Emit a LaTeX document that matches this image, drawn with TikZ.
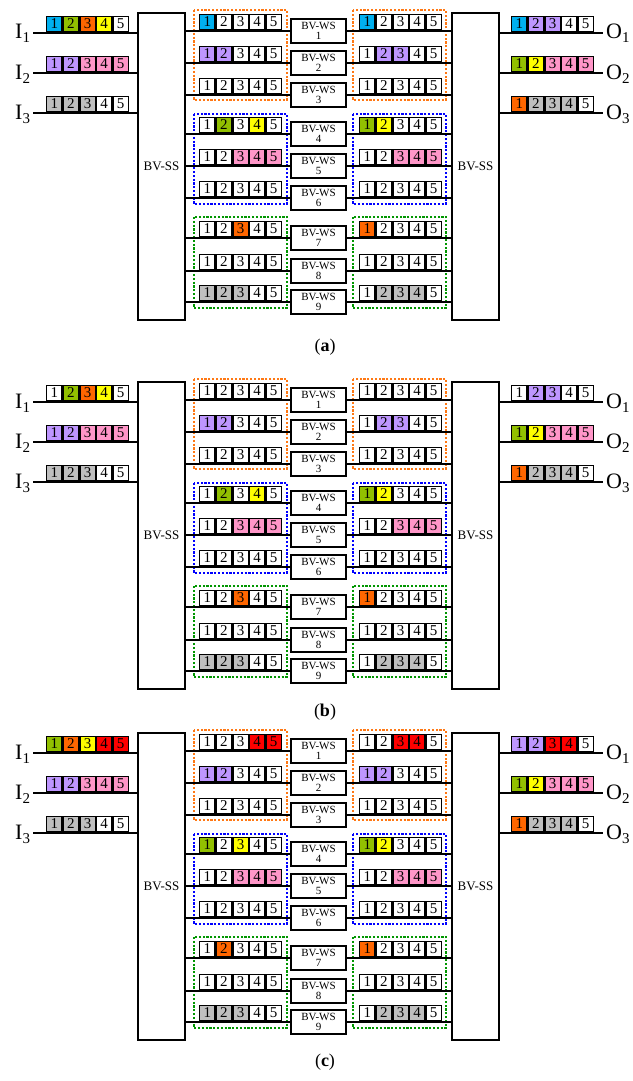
\documentclass[tikz,border=0pt]{standalone}
\usepackage{fontspec}
\setmainfont{Liberation Serif}
\definecolor{colW}{RGB}{255,255,255}
\definecolor{colC}{RGB}{0,176,240}
\definecolor{colG}{RGB}{146,192,0}
\definecolor{colO}{RGB}{255,102,0}
\definecolor{colY}{RGB}{255,255,0}
\definecolor{colP}{RGB}{190,150,255}
\definecolor{colK}{RGB}{255,150,200}
\definecolor{colS}{RGB}{191,191,191}
\definecolor{colR}{RGB}{255,0,0}
\definecolor{grpO}{RGB}{255,120,20}
\definecolor{grpB}{RGB}{0,0,255}
\definecolor{grpG}{RGB}{0,150,0}
\tikzset{
 cell/.style={draw, line width=1.3pt, minimum width=15.3pt, minimum height=14.7pt, inner sep=0pt, font=\fontsize{15}{15}\selectfont},
 ssbox/.style={draw, line width=2pt, minimum width=47pt, minimum height=307pt, inner sep=0pt, font=\fontsize{13}{13}\selectfont},
 wsbox/.style={draw, line width=2pt, fill=white, minimum width=55pt, minimum height=24pt, inner sep=0pt, align=center, font=\fontsize{11}{10}\selectfont},
 wire/.style={line width=1.8pt},
 grp/.style={line width=1.3pt, dash pattern=on 2.2pt off 1.6pt},
 iolab/.style={inner sep=0pt, anchor=base west, font=\fontsize{22}{22}\selectfont},
 plab/.style={inner sep=0pt, font=\fontsize{18}{18}\selectfont},
}
% #1 tag, #2 y offset, #3 letter, #4 label y, #5 inputs, #6 left rows, #7 right rows, #8 outputs
\newcommand\drawpanel[8]{%
\begin{scope}[shift={(0,#2)}]
 \node[ssbox] (ssL-#1) at (161.5,166.5) {BV-SS};
 \node[ssbox] (ssR-#1) at (475.5,166.5) {BV-SS};
 \draw[grp, draw=grpO] (194,10) rectangle (287,100);
 \draw[grp, draw=grpO] (353,10) rectangle (446,100);
 \draw[grp, draw=grpB] (194,114) rectangle (287,204);
 \draw[grp, draw=grpB] (353,114) rectangle (446,204);
 \draw[grp, draw=grpG] (194,217) rectangle (287,308);
 \draw[grp, draw=grpG] (353,217) rectangle (446,308);
 % inputs
 \foreach \row [count=\j] in {#5} {
   \pgfmathsetmacro\yy{{33,73,113}[\j-1]}
   \coordinate (in-#1-\j) at (33,\yy);
   \draw[wire] (in-#1-\j) -- (in-#1-\j -| ssL-#1.west);
   \node[iolab] (lI-#1-\j) at (15,\yy+6) {I\raisebox{-4pt}{\fontsize{15}{15}\selectfont\j}};
   \foreach \cc [count=\i] in \row {
     \node[cell, fill=col\cc] (ci-#1-\j-\i) at ({46+(\i-0.5)*16.6},\yy-9) {\i};
   }
 }
 % outputs
 \foreach \row [count=\j] in {#8} {
   \pgfmathsetmacro\yy{{33,73,113}[\j-1]}
   \coordinate (out-#1-\j) at (603,\yy);
   \draw[wire] (out-#1-\j -| ssR-#1.east) -- (out-#1-\j);
   \node[iolab] (lO-#1-\j) at (606,\yy+6) {O\raisebox{-4pt}{\fontsize{15}{15}\selectfont\j}};
   \foreach \cc [count=\i] in \row {
     \node[cell, fill=col\cc] (co-#1-\j-\i) at ({511+(\i-0.5)*16.6},\yy-9) {\i};
   }
 }
 % WS boxes and left side
 \foreach \row [count=\j] in {#6} {
   \pgfmathsetmacro\yy{{31,63,95,134,166,198,238,271,302}[\j-1]}
   \node[wsbox] (ws-#1-\j) at (318.5,\yy) {BV-WS\\\j};
   \draw[wire] (ws-#1-\j.west -| ssL-#1.east) -- (ws-#1-\j.west);
   \draw[wire] (ws-#1-\j.east) -- (ws-#1-\j.east -| ssR-#1.west);
   \foreach \cc [count=\i] in \row {
     \node[cell, fill=col\cc] (cl-#1-\j-\i) at ({199+(\i-0.5)*16.6},\yy-9) {\i};
   }
 }
 \foreach \row [count=\j] in {#7} {
   \pgfmathsetmacro\yy{{31,63,95,134,166,198,238,271,302}[\j-1]}
   \foreach \cc [count=\i] in \row {
     \node[cell, fill=col\cc] (cr-#1-\j-\i) at ({359+(\i-0.5)*16.6},\yy-9) {\i};
   }
 }
 \node[plab] (plab-#1) at (325,#4) {(\textbf{#3})};
\end{scope}}
\begin{document}
\begin{tikzpicture}[x=1pt,y=-1pt]
\useasboundingbox (0,0) rectangle (632,1081);
\fill[white] (0,0) rectangle (632,1081);
\drawpanel{a}{0}{a}{347}
 {{C,G,O,Y,W},{P,P,K,K,K},{S,S,S,W,W}}
 {{C,W,W,W,W},{P,P,W,W,W},{W,W,W,W,W},{W,G,W,Y,W},{W,W,K,K,K},{W,W,W,W,W},{W,W,O,W,W},{W,W,W,W,W},{S,S,S,W,W}}
 {{C,W,W,W,W},{W,P,P,W,W},{W,W,W,W,W},{G,Y,W,W,W},{W,W,K,K,K},{W,W,W,W,W},{O,W,W,W,W},{W,W,W,W,W},{W,S,S,S,W}}
 {{C,P,P,W,W},{G,Y,K,K,K},{O,S,S,S,W}}
\drawpanel{b}{369}{b}{343}
 {{W,G,O,Y,W},{P,P,K,K,K},{S,S,S,W,W}}
 {{W,W,W,W,W},{P,P,W,W,W},{W,W,W,W,W},{W,G,W,Y,W},{W,W,K,K,K},{W,W,W,W,W},{W,W,O,W,W},{W,W,W,W,W},{S,S,S,W,W}}
 {{W,W,W,W,W},{W,P,P,W,W},{W,W,W,W,W},{G,Y,W,W,W},{W,W,K,K,K},{W,W,W,W,W},{O,W,W,W,W},{W,W,W,W,W},{W,S,S,S,W}}
 {{W,P,P,W,W},{G,Y,K,K,K},{O,S,S,S,W}}
\drawpanel{c}{720}{c}{342}
 {{G,O,Y,R,R},{P,P,K,K,K},{S,S,S,W,W}}
 {{W,W,W,R,R},{P,P,W,W,W},{W,W,W,W,W},{G,W,Y,W,W},{W,W,K,K,K},{W,W,W,W,W},{W,O,W,W,W},{W,W,W,W,W},{S,S,S,W,W}}
 {{W,W,R,R,W},{P,P,W,W,W},{W,W,W,W,W},{G,Y,W,W,W},{W,W,K,K,K},{W,W,W,W,W},{O,W,W,W,W},{W,W,W,W,W},{W,S,S,S,W}}
 {{P,P,R,R,W},{G,Y,K,K,K},{O,S,S,S,W}}
\end{tikzpicture}
\end{document}
